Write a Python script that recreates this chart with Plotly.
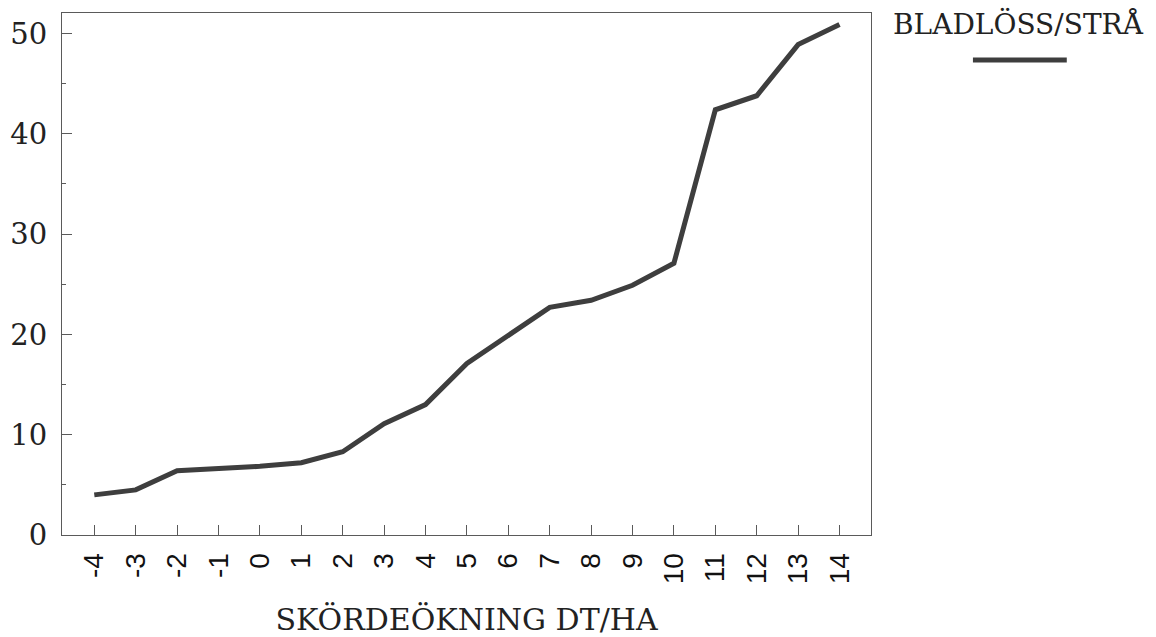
import plotly.graph_objects as go

# Data
skordeokning = [-4, -3, -2, -1, 0, 1, 2, 3, 4, 5, 6, 7, 8, 9, 10, 11, 12, 13, 14]
bladloss = [4.0, 4.5, 6.4, 6.6, 6.85, 7.2, 8.3, 11.1, 13.0, 17.1, 19.9, 22.7, 23.4, 24.9, 27.1, 42.4, 43.8, 48.9, 50.9]
x_ticks = skordeokning
y_ticks = [0, 10, 20, 30, 40, 50]
series_name = "BLADLÖSS/STRÅ"
x_title = "SKÖRDEÖKNING DT/HA"

LINE_COLOR = "#3e3e3e"
AXIS_COLOR = "#5a5a5a"
SERIF = "'DejaVu Serif', serif"

fig = go.Figure()
fig.add_trace(go.Scatter(
    x=skordeokning, y=bladloss, mode="lines", name=series_name,
    line=dict(color=LINE_COLOR, width=5), showlegend=False,
))

fig.update_layout(
    width=1156, height=637,
    margin=dict(l=62, r=285, t=13, b=102, pad=0),
    paper_bgcolor="white", plot_bgcolor="white",
    xaxis=dict(
        range=[-4.78, 14.76], tickvals=x_ticks, ticktext=[str(v) for v in x_ticks],
        tickangle=-90, ticks="inside", ticklen=10, tickcolor=AXIS_COLOR, tickwidth=1,
        showline=True, linecolor=AXIS_COLOR, linewidth=1, mirror=True,
        showgrid=False, zeroline=False, automargin=False,
        tickfont=dict(family="Liberation Sans", size=28, color="#111"),
        ticklabelstandoff=6,
        title=dict(text=x_title, font=dict(family=SERIF, size=30, color="#222"), standoff=28),
    ),
    yaxis=dict(
        range=[0, 52.05], tickvals=y_ticks,
        ticks="inside", ticklen=10, tickcolor=AXIS_COLOR, tickwidth=1,
        minor=dict(dtick=5, tick0=5, ticks="inside", ticklen=4, tickcolor=AXIS_COLOR, showgrid=False),
        showline=True, linecolor=AXIS_COLOR, linewidth=1, mirror=True,
        showgrid=False, zeroline=False, automargin=False,
        tickfont=dict(family=SERIF, size=29, color="#222"),
        ticklabelstandoff=8,
    ),
    annotations=[dict(
        text=series_name, xref="paper", yref="paper", x=1.182, y=0.979,
        xanchor="center", yanchor="middle", showarrow=False,
        font=dict(family=SERIF, size=28, color="#222"),
    )],
    shapes=[dict(
        type="line", xref="paper", yref="paper", x0=1.126, x1=1.242, y0=0.91, y1=0.91,
        line=dict(color=LINE_COLOR, width=5),
    )],
)

fig.write_html(
    "out.html",
    config={"displayModeBar": False},
    post_script="document.body.style.margin='0';document.body.style.padding='0';",
)
